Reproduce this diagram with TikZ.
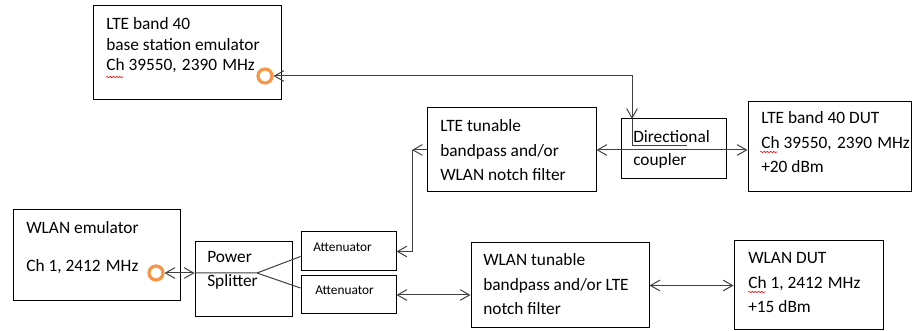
\documentclass[tikz,border=0pt]{standalone}
\usepackage{fontspec}
\setmainfont{Carlito}
\usetikzlibrary{arrows.meta,calc,fit,decorations.pathmorphing}
\definecolor{portorange}{HTML}{F79646}
\newcommand{\wgap}{\hspace{0.3em}}
\tikzset{mybox/.style={draw=black,line width=0.75pt,inner sep=0pt}}
\tikzset{mytext/.style={anchor=base west,align=left,inner sep=0pt,font=\fontsize{13}{18.4}\selectfont}}
\tikzset{myport/.style={circle,draw=portorange,line width=2.4pt,minimum size=10.5pt,inner sep=0pt}}
\tikzset{myline/.style={draw=black!75,line width=0.75pt,>={Straight Barb[length=7pt,width=8pt]}}}
\tikzset{myspell/.style={draw=red,line width=0.4pt,decorate,decoration={snake,amplitude=0.6pt,segment length=2.4pt}}}

\begin{document}
\begin{tikzpicture}[x=0.75pt,y=-0.75pt]
  \useasboundingbox (0,0) rectangle (914,331);
  % setup the boxes
  \node[mybox,fit={(93,6) (281,100)}] (bs) {};
  \node[mybox,fit={(427,108) (596,192)}] (ltefilter) {};
  \node[mybox,fit={(621,119) (726,179)}] (coupler) {};
  \node[mybox,fit={(748,102) (911,192)}] (ltedut) {};
  \node[mybox,fit={(13,210) (180,301)}] (wlanemu) {};
  \node[mybox,fit={(195,242) (292,317)}] (splitter) {};
  \node[mybox,fit={(301,232) (396,271)}] (att1) {};
  \node[mybox,fit={(301,276) (396,314)}] (att2) {};
  \node[mybox,fit={(471,243) (649,328)}] (wlanfilter) {};
  \node[mybox,fit={(734,241) (883,330)}] (wlandut) {};
  % text in the boxes (placed at the last line)
  \node[mytext,font=\fontsize{13}{15.4}\selectfont] (bs-txt) at (106,71)
    {LTE band 40\\base station emulator\\Ch 39550,\wgap 2390\wgap MHz};
  \node[mytext] (ltefilter-txt) at (440,181) {LTE tunable\\bandpass and/or\\WLAN notch filter};
  \node[mytext,font=\fontsize{13}{17.3}\selectfont] (coupler-txt) at (633,166) {Directional\\coupler};
  \node[mytext] (ltedut-txt) at (761,173) {LTE band 40 DUT\\Ch 39550,\wgap 2390\wgap MHz\\+20 dBm};
  \node[mytext,font=\fontsize{13}{29}\selectfont] (wlanemu-txt) at (26,272) {WLAN emulator\\Ch 1, 2412\wgap MHz};
  \node[mytext,font=\fontsize{13}{18}\selectfont] (splitter-txt) at (207,287) {Power\\Splitter};
  \node[mytext,font=\fontsize{10}{12}\selectfont] (att1-txt) at (313,252) {Attenuator};
  \node[mytext,font=\fontsize{10}{12}\selectfont] (att2-txt) at (315,295) {Attenuator};
  \node[mytext] (wlanfilter-txt) at (483,315) {WLAN tunable\\bandpass and/or LTE\\notch filter};
  \node[mytext] (wlandut-txt) at (748,313) {WLAN DUT\\Ch 1, 2412\wgap MHz\\+15 dBm};
  % ports
  \node[myport] (bsport) at (265,76) {};
  \node[myport] (wport) at (156,273) {};
  \coordinate (cpl-in) at (632,119);
  \coordinate (bend) at (412,150);
  \coordinate (fork) at (257,273);
  % connect them
  \draw[myline,<->] (bsport.east) -| (cpl-in);
  \draw[myline] (cpl-in) -- (632,146) -- (687,146);
  \draw[myline,<->] (ltefilter.east) -- (ltefilter.east -| ltedut.west);
  \draw[myline,->] (ltefilter.west) -- (bend);
  \draw[myline,->] (bend) |- (att1.east);
  \draw[myline,<->] (wport.east) -- (wport.east -| splitter.west);
  \draw[myline] (wport.east -| splitter.west) -- (fork) -- ($(att1.west)+(0,5)$);
  \draw[myline] (fork) -- ($(att2.west)+(0,-7)$);
  \draw[myline,<->] (att2.east) -- (att2.east -| wlanfilter.west);
  \draw[myline,<->] (wlanfilter.east) -- (wlandut.west);
  % spell check marks
  \foreach \sx/\sy in {106/77,760/152,748/292}
  {
    \draw[myspell] (\sx,\sy) -- ++(17,0);
  }
\end{tikzpicture}
\end{document}
